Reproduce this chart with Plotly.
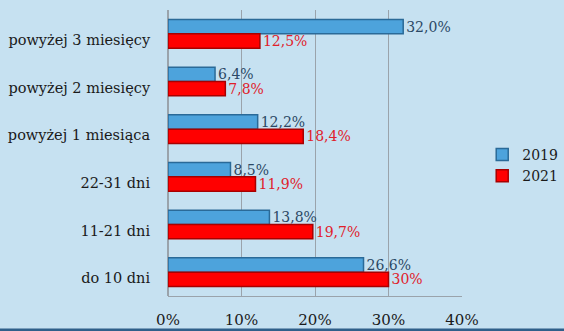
import plotly.graph_objects as go

categories = ["powyżej 3 miesięcy", "powyżej 2 miesięcy", "powyżej 1 miesiąca",
              "22-31 dni", "11-21 dni", "do 10 dni"]
values_2019 = [32.0, 6.4, 12.2, 8.5, 13.8, 26.6]
values_2021 = [12.5, 7.8, 18.4, 11.9, 19.7, 30.0]
labels_2019 = ["32,0%", "6,4%", "12,2%", "8,5%", "13,8%", "26,6%"]
labels_2021 = ["12,5%", "7,8%", "18,4%", "11,9%", "19,7%", "30%"]
tick_vals = [0, 10, 20, 30, 40]
tick_text = ["0%", "10%", "20%", "30%", "40%"]

BG = "#c6e1f1"
FONT = "DejaVu Serif"

fig = go.Figure()
fig.add_trace(go.Bar(
    y=categories, x=values_2019, name="2019", orientation="h",
    marker=dict(color="#4da3dc", line=dict(color="#2a6a98", width=1.5)),
    text=labels_2019, textposition="outside", cliponaxis=False, constraintext="none",
    textfont=dict(family=FONT, size=14, color="#2b4865"),
))
fig.add_trace(go.Bar(
    y=categories, x=values_2021, name="2021", orientation="h",
    marker=dict(color="#ff0000", line=dict(color="#a80000", width=1.5)),
    text=labels_2021, textposition="outside", cliponaxis=False, constraintext="none",
    textfont=dict(family=FONT, size=14, color="#e0202a"),
))

fig.update_layout(
    width=564, height=331,
    paper_bgcolor=BG, plot_bgcolor=BG,
    margin=dict(l=168, r=102, t=10, b=35, autoexpand=False),
    barmode="group", bargap=0.4, bargroupgap=0,
    font=dict(family=FONT, size=14, color="#1a1a1a"),
    showlegend=True,
    legend=dict(xref="container", yref="container", x=0.855, y=0.5,
                xanchor="left", yanchor="middle",
                bgcolor="rgba(0,0,0,0)", font=dict(family=FONT, size=14, color="#1a1a1a"),
                itemwidth=30, tracegroupgap=4),
    xaxis=dict(range=[0, 40], tickvals=tick_vals, ticktext=tick_text,
               showgrid=True, gridcolor="#9aa3ab", gridwidth=1,
               zeroline=True, zerolinecolor="#9aa3ab",
               showline=True, linecolor="#9aa3ab",
               ticks="outside", ticklen=10, tickcolor="rgba(0,0,0,0)",
               automargin=False,
               tickfont=dict(family=FONT, size=15, color="#1a1a1a")),
    yaxis=dict(categoryorder="array", categoryarray=categories, autorange="reversed",
               showgrid=False, showline=False, ticks="outside", ticklen=14,
               tickcolor="rgba(0,0,0,0)", automargin=False, ticklabelshift=-6,
               tickfont=dict(family=FONT, size=14.5, color="#1a1a1a")),
    shapes=[dict(type="line", xref="paper", yref="paper", x0=-1, x1=1.5,
                 y0=-0.119, y1=-0.119, line=dict(color="#2f5f8a", width=3))],
)

fig.write_html("out.html")
